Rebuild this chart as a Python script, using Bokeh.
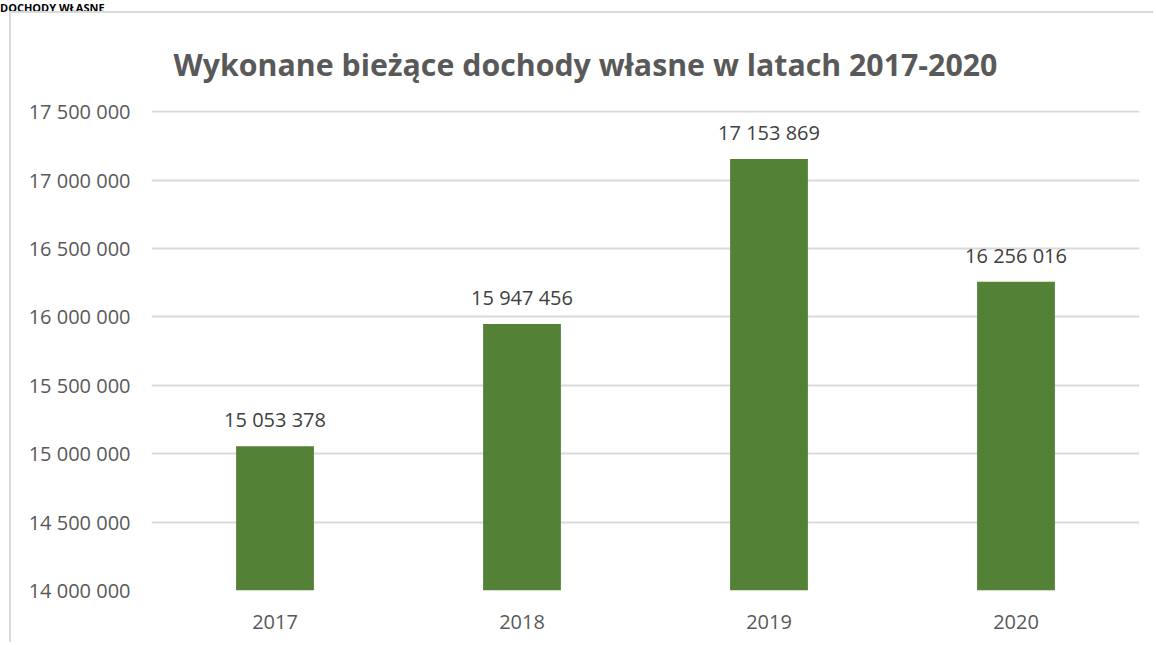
from bokeh.plotting import figure
from bokeh.models import ColumnDataSource, LabelSet, FactorRange, Range1d, FixedTicker, Div
from bokeh.layouts import column
from bokeh.core.properties import value
from bokeh.embed import file_html
from bokeh.resources import INLINE

heading = "DOCHODY WŁASNE"
years = ["2017", "2018", "2019", "2020"]
values = [15053378, 15947456, 17153869, 16256016]
value_labels = ["15 053 378", "15 947 456", "17 153 869", "16 256 016"]
y_ticks = [14000000, 14500000, 15000000, 15500000, 16000000, 16500000, 17000000, 17500000]
y_tick_labels = ["14 000 000", "14 500 000", "15 000 000", "15 500 000",
                 "16 000 000", "16 500 000", "17 000 000", "17 500 000"]
title_text = "Wykonane bieżące dochody własne w latach 2017-2020"

FONT = "Open Sans"
GRAY = "#595959"

src = ColumnDataSource(dict(year=years, value=values, label=value_labels))

head = Div(
    text=('<div style="font-family:\'Open Sans\'; font-weight:bold; '
          'font-size:11px; line-height:10px; color:#000; white-space:nowrap;">'
          + heading + '</div>'),
    width=300, height=10, margin=(0, 0, 0, 0),
)

p = figure(
    width=1144, height=631,
    x_range=FactorRange(*years, range_padding=0),
    y_range=Range1d(14000000, 17508000),
    output_backend="svg", toolbar_location=None,
    min_border_left=140, min_border_right=16,
    min_border_top=97, min_border_bottom=54,
    title=title_text,
    margin=(1, 0, 0, 9),
    styles={"border-left": "2px solid #d9d9d9", "border-top": "2px solid #d9d9d9"},
)
p.outline_line_color = None
p.background_fill_color = "white"
p.border_fill_color = "white"

p.title.text_font = FONT
p.title.text_font_size = "30.3px"
p.title.text_font_style = "bold"
p.title.text_color = GRAY
p.title.align = "left"
p.title.offset = 22
p.title.standoff = 52

p.vbar(x="year", top="value", bottom=14000000, width=0.315, source=src,
       fill_color="#538135", line_color=None)

labels = LabelSet(x="year", y="value", text="label", source=src,
                  text_align="center", text_baseline="alphabetic", y_offset=19,
                  text_font=value(FONT), text_font_size=value("20px"), text_color=value("#404040"))
p.add_layout(labels)

p.yaxis.ticker = FixedTicker(ticks=y_ticks)
p.yaxis.major_label_overrides = {t: l for t, l in zip(y_ticks, y_tick_labels)}
for ax in (p.xaxis, p.yaxis):
    ax.axis_line_color = None
    ax.major_tick_line_color = None
    ax.minor_tick_line_color = None
    ax.major_label_text_font = FONT
    ax.major_label_text_font_size = "20px"
    ax.major_label_text_color = GRAY
p.yaxis.major_label_standoff = 15
p.xaxis.major_label_standoff = 18

p.xgrid.grid_line_color = None
p.ygrid.grid_line_color = "#d9d9d9"
p.ygrid.grid_line_width = 2

layout = column(head, p, spacing=0)
open("out.html", "w").write(file_html(layout, INLINE))
